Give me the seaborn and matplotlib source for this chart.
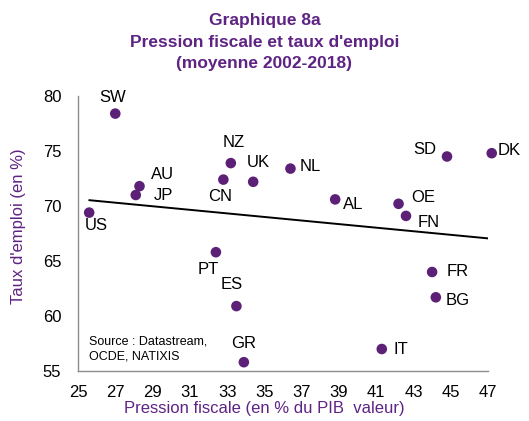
import numpy as np
import pandas as pd
import matplotlib
matplotlib.use("Agg")
import matplotlib.pyplot as plt
import seaborn as sns

# data
countries = ["SW", "US", "AU", "JP", "CN", "NZ", "UK", "PT", "NL", "AL",
             "OE", "FN", "SD", "DK", "FR", "BG", "ES", "GR", "IT"]
pression = [27.0, 25.6, 28.3, 28.1, 32.8, 33.2, 34.4, 32.4, 36.4, 38.8,
            42.2, 42.6, 44.8, 47.2, 44.0, 44.2, 33.5, 33.9, 41.3]
emploi = [78.4, 69.4, 71.8, 71.0, 72.4, 73.9, 72.2, 65.8, 73.4, 70.6,
          70.2, 69.1, 74.5, 74.8, 64.0, 61.7, 60.9, 55.8, 57.0]

x_ticks = list(range(25, 48, 2))
y_ticks = [55, 60, 65, 70, 75, 80]

# label offsets in pixels (dx, dy) relative to each point
label_offsets = {
    "SW": (-3, 16), "US": (7, -13), "AU": (23, 12), "JP": (28, 0),
    "CN": (-3, -17), "NZ": (3, 21), "UK": (5, 19), "PT": (-8, -17),
    "NL": (20, 2), "AL": (18, -5), "OE": (25, 6), "FN": (23, -7),
    "SD": (-22, 7), "DK": (17, 3), "FR": (26, 0), "BG": (22, -3),
    "ES": (-5, 22), "GR": (0, 19), "IT": (19, -1),
}

purple = "#5c2177"
text_purple = "#5e2383"

sns.set_theme(style="white")
plt.rcParams["font.family"] = ["Liberation Sans", "DejaVu Sans"]

df = pd.DataFrame({"pays": countries, "pression": pression, "emploi": emploi})

fig = plt.figure(figsize=(5.29, 4.21), dpi=100)
ax = fig.add_axes([78 / 529, 1 - 371 / 421, 410 / 529, 275 / 421])

sns.regplot(data=df, x="pression", y="emploi", scatter=False, ci=None,
            color="black", line_kws={"linewidth": 1.4}, ax=ax)
sns.scatterplot(data=df, x="pression", y="emploi", color=purple, s=58,
                edgecolor="none", ax=ax, clip_on=False, zorder=3)

for name, xv, yv in zip(countries, pression, emploi):
    dx, dy = label_offsets[name]
    ax.annotate(name, (xv, yv), xytext=(dx, dy), textcoords="offset pixels",
                ha="center", va="center", fontsize=12, color="black",
                annotation_clip=False)

ax.set_xlim(25, 47)
ax.set_ylim(55, 80)
ax.set_xticks(x_ticks)
ax.set_yticks(y_ticks)
for side in ["top", "right"]:
    ax.spines[side].set_visible(False)
for side in ["left", "bottom"]:
    ax.spines[side].set_color("#8c8c8c")
    ax.spines[side].set_linewidth(1.0)
ax.tick_params(axis="both", which="major", direction="out", length=4,
               width=1.0, color="#8c8c8c", labelsize=12, labelcolor="black")
ax.tick_params(axis="x", pad=6)
ax.tick_params(axis="y", pad=8)

ax.set_xlabel("Pression fiscale (en % du PIB  valeur)", fontsize=12,
              color=text_purple)
ax.set_ylabel("Taux d'emploi (en %)", fontsize=12, color=text_purple)
ax.xaxis.set_label_coords(0.455, -0.108)
ax.yaxis.set_label_coords(-0.126, 0.528)

ax.text(0.027, 0.128, "Source : Datastream,\nOCDE, NATIXIS", transform=ax.transAxes,
        ha="left", va="top", fontsize=9, color="black", linespacing=1.35)

fig.text(0.5, 1 - 20.5 / 421, "Graphique 8a", ha="center", va="center",
         fontsize=12.5, fontweight="bold", color=text_purple)
fig.text(0.5, 1 - 42 / 421, "Pression fiscale et taux d'emploi", ha="center",
         va="center", fontsize=12.5, fontweight="bold", color=text_purple)
fig.text(0.5, 1 - 63.5 / 421, "(moyenne 2002-2018)", ha="center", va="center",
         fontsize=12.5, fontweight="bold", color=text_purple)

fig.savefig("out.png", dpi=100)
